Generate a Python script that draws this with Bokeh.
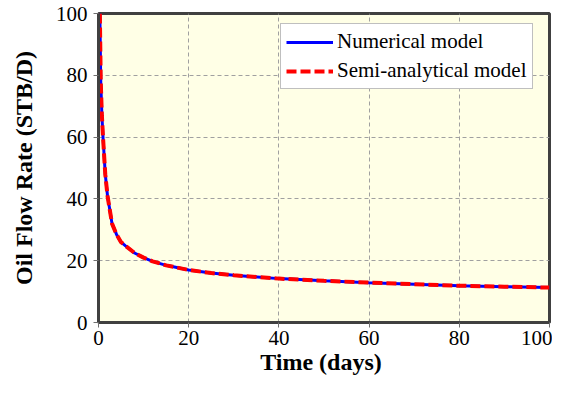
from bokeh.plotting import figure
from bokeh.models import Range1d, FixedTicker, Legend, LegendItem
from bokeh.embed import file_html
from bokeh.resources import INLINE

time_days = [0.3, 0.5, 0.75, 1, 1.5, 2, 3, 4, 5, 6, 8, 10, 12, 15, 20, 25, 30, 40, 50, 60, 70, 80, 90, 100]
numerical = [100, 78, 67, 60, 48, 41, 32, 28.5, 26, 24.8, 22.5, 21, 19.8, 18.5, 17, 16, 15.3, 14.2, 13.5, 12.9, 12.4, 11.9, 11.6, 11.3]
semi_analytical = [100, 78, 67, 60, 48, 41, 32, 28.5, 26, 24.8, 22.5, 21, 19.8, 18.5, 17, 16, 15.3, 14.2, 13.5, 12.9, 12.4, 11.9, 11.6, 11.3]
x_ticks = [0, 20, 40, 60, 80, 100]
y_ticks = [0, 20, 40, 60, 80, 100]

FONT = "Liberation Serif"

p = figure(width=552, height=381, output_backend="svg", toolbar_location=None,
           x_range=Range1d(0, 100), y_range=Range1d(0, 100),
           min_border_left=98, min_border_right=3, min_border_top=13, min_border_bottom=59)

p.border_fill_color = "white"
p.background_fill_color = "#FFFFE6"
p.outline_line_color = "#404040"
p.outline_line_width = 3

for ax in (p.xaxis[0], p.yaxis[0]):
    ax.axis_line_color = "#404040"
    ax.axis_line_width = 3
    ax.major_tick_line_color = "#707070"
    ax.major_tick_out = 5
    ax.major_tick_in = 0
    ax.minor_tick_line_color = None
    ax.major_label_text_font = FONT
    ax.major_label_text_font_size = "21px"
    ax.major_label_text_color = "black"
    ax.axis_label_text_font = FONT
    ax.axis_label_text_font_style = "bold"
    ax.axis_label_text_font_size = "24px"
    ax.axis_label_text_color = "black"

p.xaxis.ticker = FixedTicker(ticks=x_ticks)
p.yaxis.ticker = FixedTicker(ticks=y_ticks)
p.xaxis.axis_label = "Time  (days)"
p.yaxis.axis_label = "Oil Flow Rate (STB/D)"
p.xaxis.major_label_standoff = 3
p.yaxis.major_label_standoff = 6
p.xaxis.axis_label_standoff = 1
p.yaxis.axis_label_standoff = 16

for g in (p.xgrid[0], p.ygrid[0]):
    g.grid_line_color = "#A0A0A0"
    g.grid_line_dash = "4 3"
    g.grid_line_width = 1

r1 = p.line(time_days, numerical, line_color="#0000FF", line_width=3)
r2 = p.line(time_days, semi_analytical, line_color="#FF0000", line_width=4, line_dash="10 4")

legend = Legend(items=[LegendItem(label="Numerical model", renderers=[r1]),
                       LegendItem(label="Semi-analytical model", renderers=[r2])],
                location=(182, 233))
legend.label_text_font = FONT
legend.label_text_font_size = "21px"
legend.label_text_color = "black"
legend.glyph_width = 47
legend.glyph_height = 24
legend.label_standoff = 4
legend.spacing = 4
legend.padding = 5
legend.margin = 0
legend.border_line_color = "#808080"
legend.border_line_width = 1
legend.background_fill_color = "white"
legend.background_fill_alpha = 1
p.add_layout(legend, "center")

open("out.html", "w").write(file_html(p, INLINE))
